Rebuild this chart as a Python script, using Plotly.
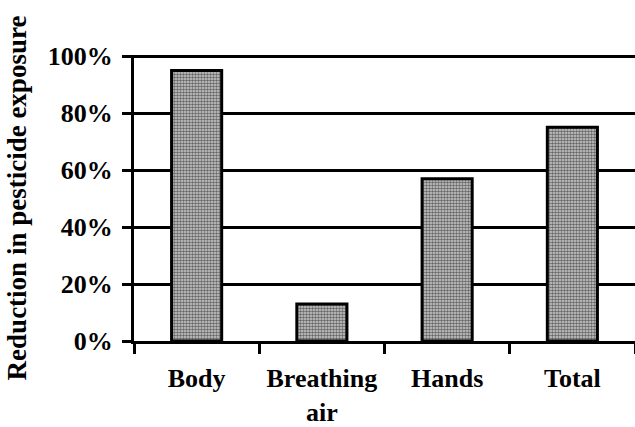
import plotly.graph_objects as go

# Share of exposure removed, by body area
categories = ["Body", "Breathing<br>air", "Hands", "Total"]
reduction = [0.95, 0.13, 0.57, 0.75]
y_ticks = [0, 0.2, 0.4, 0.6, 0.8, 1.0]

FONT = "Liberation Serif"

fig = go.Figure(
    go.Bar(
        x=categories,
        y=reduction,
        width=0.4,
        marker=dict(
            color="#8a8a8a",
            line=dict(color="black", width=3),
            pattern=dict(shape=".", fgcolor="#000000", bgcolor="#cfcfcf",
                         size=3, solidity=0.55),
        ),
    )
)

fig.update_layout(
    width=635,
    height=427,
    margin=dict(l=134, r=0, t=55, b=83),
    paper_bgcolor="white",
    plot_bgcolor="white",
    showlegend=False,
    font=dict(family=FONT, color="black", size=26),
)

fig.update_xaxes(
    type="category",
    range=[-0.5, 3.5],
    tickson="boundaries",
    ticks="outside",
    ticklen=10,
    tickwidth=3,
    tickcolor="black",
    showline=True,
    linecolor="black",
    linewidth=3,
    showgrid=False,
    tickfont=dict(family=FONT, size=26, color="black", weight="bold"),
    ticklabelstandoff=12,
)

fig.update_yaxes(
    range=[0, 1.004],
    tickvals=y_ticks,
    tickformat=".0%",
    ticks="outside",
    ticklen=9,
    tickwidth=3,
    tickcolor="black",
    showline=True,
    linecolor="black",
    linewidth=3,
    showgrid=True,
    gridcolor="black",
    gridwidth=3,
    zeroline=False,
    tickfont=dict(family=FONT, size=26, color="black", weight="bold"),
    ticklabelstandoff=4,
    title=dict(
        text="Reduction in pesticide exposure",
        font=dict(family=FONT, size=27, color="black", weight="bold"),
        standoff=14,
    ),
)

fig.write_html("out.html")
